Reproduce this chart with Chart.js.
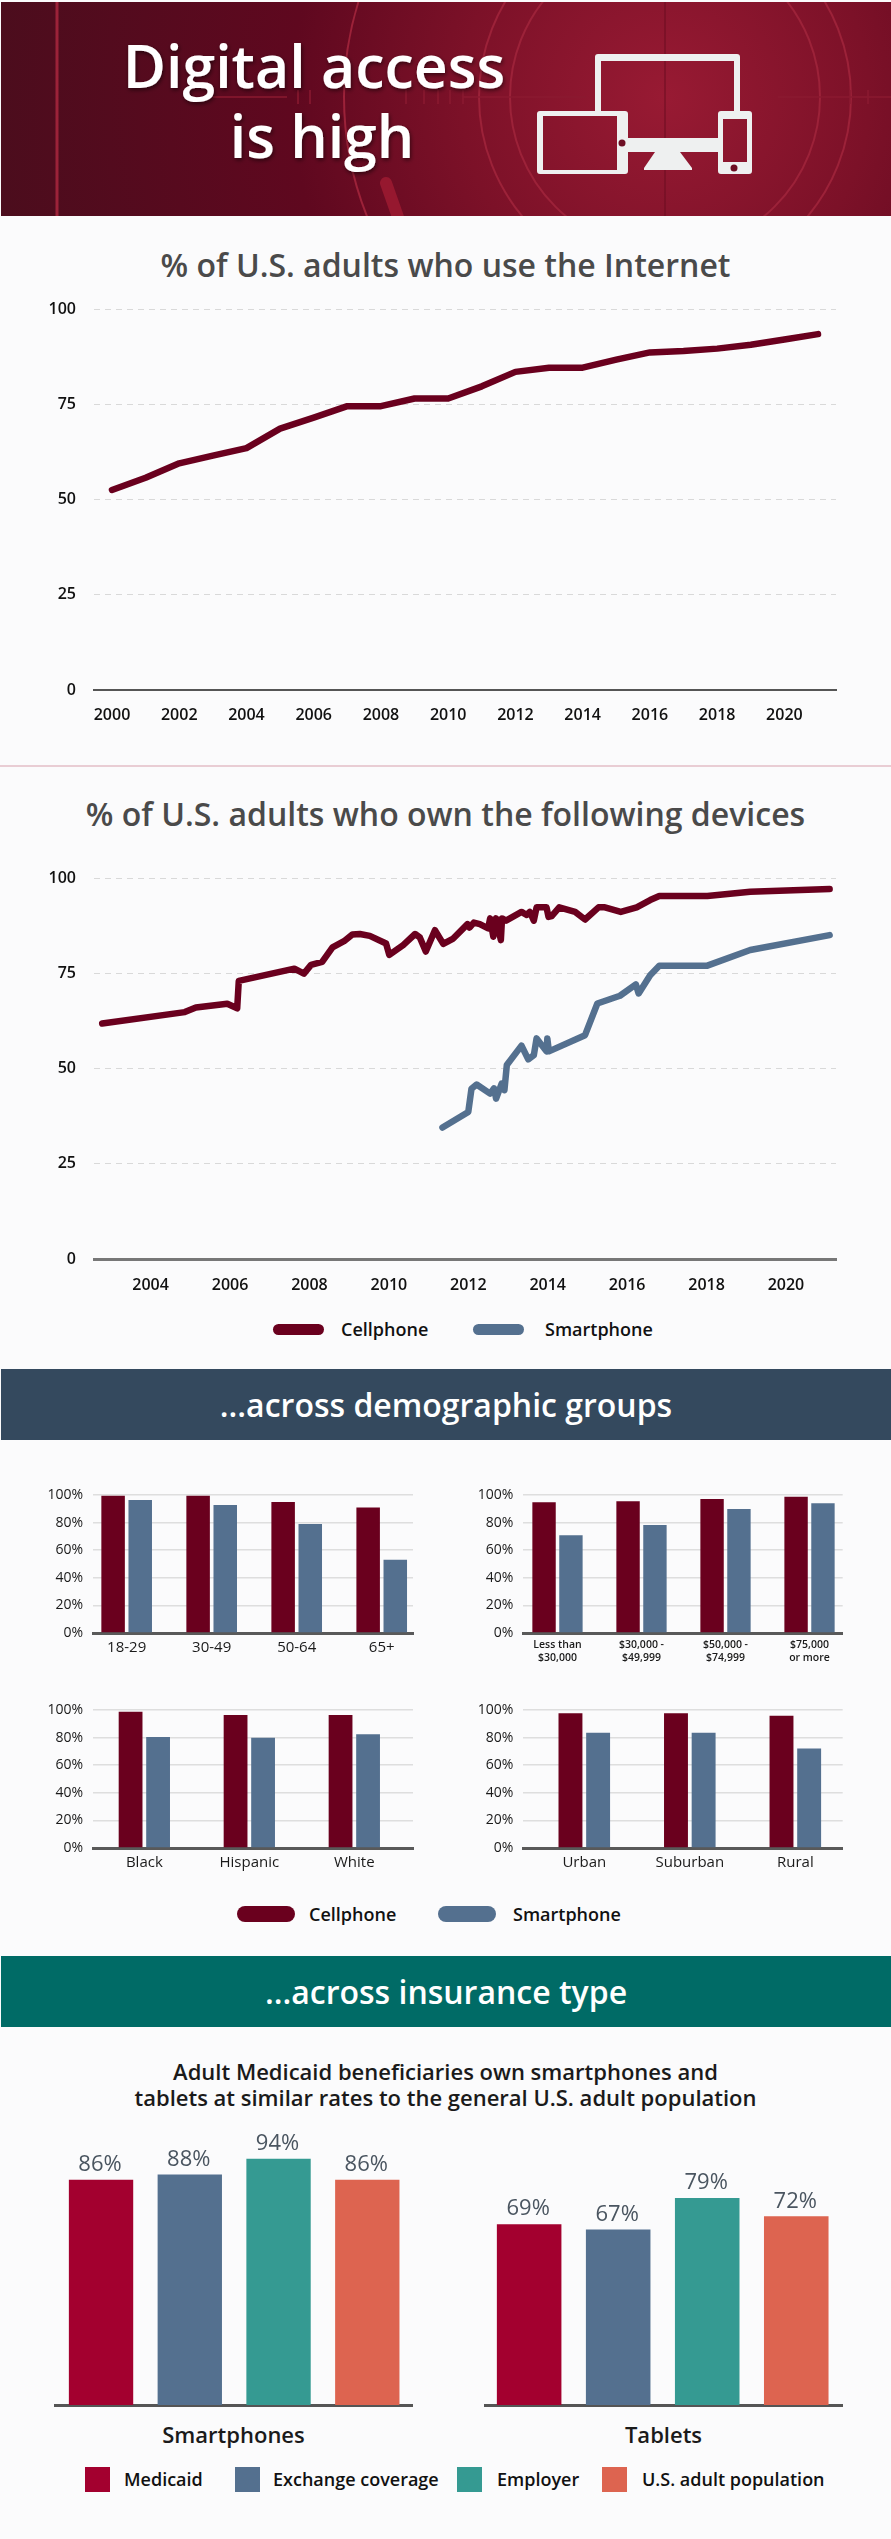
<!DOCTYPE html>
<html>
<head>
<meta charset="utf-8">
<title>Digital access is high</title>
<script src="https://cdn.jsdelivr.net/npm/chart.js@4/dist/chart.umd.min.js"></script>
<style>
  html, body { margin: 0; padding: 0; background: #fbfbfc; }
  body { position: relative; width: 891px; height: 2539px; overflow: hidden; font-family: 'Open Sans', sans-serif; }
  canvas { position: absolute; display: block; }
  .txt { position: absolute; white-space: nowrap; line-height: 1; }
  .center { left: 0; width: 891px; text-align: center; }
  .title { font-size: 32px; font-weight: 600; color: #4a4a4a; }
  .band { position: absolute; left: 1px; width: 890px; color: #fff; text-align: center; font-size: 32px; font-weight: 600; }
  .sw { position: absolute; }
  .lg { font-size: 18px; font-weight: 600; color: #111; }
  #banner { position: absolute; left: 0; top: 2px; }
</style>
</head>
<body>

<svg id="banner" width="891" height="214" viewBox="0 2 891 214">
  <defs>
    <radialGradient id="bg" gradientUnits="userSpaceOnUse" cx="665" cy="97" r="680">
      <stop offset="0" stop-color="#981a33"/>
      <stop offset="0.3" stop-color="#7c1128"/>
      <stop offset="0.55" stop-color="#5f081f"/>
      <stop offset="1" stop-color="#4b0d1d"/>
    </radialGradient>
    <filter id="sh"><feDropShadow dx="1" dy="2" stdDeviation="2" flood-color="#000" flood-opacity=".55"/></filter>
  </defs>
  <rect x="1" y="2" width="890" height="214" fill="url(#bg)"/>
  <g fill="none" stroke="#9c2239">
    <circle cx="665" cy="97" r="155" stroke-width="2"/>
    <circle cx="665" cy="97" r="186" stroke-width="2"/>
    <circle cx="665" cy="97" r="321" stroke-width="2"/>
    <line x1="57" y1="2" x2="57" y2="216" stroke-width="3"/>
    <line x1="665" y1="2" x2="665" y2="216" stroke="#6b0c20"/>
    <path d="M213 97H287M298 90V104M310 90V104M406 90V104M424 90V104M438 90V104M450 90V104M463 90V104M463 97H586M778 97H891M850 90V104M868 90V104" stroke-width="1.5" stroke="#8a1a30"/>
    <line x1="386" y1="183" x2="399" y2="220" stroke="#96182f" stroke-width="12" stroke-linecap="round"/>
  </g>
  <g fill="#eef0f0">
    <path fill-rule="evenodd" d="M598 54H737a3 3 0 0 1 3 3V112H734V61H601V112H595V57a3 3 0 0 1 3-3Z"/>
    <path d="M628 138H719V152H628Z"/>
    <path d="M655 152H680L692 168V170H644V168Z"/>
    <path fill-rule="evenodd" d="M540 111H625a3 3 0 0 1 3 3V171a3 3 0 0 1-3 3H540a3 3 0 0 1-3-3V114a3 3 0 0 1 3-3ZM543 116V170H617V116Z"/>
    <path fill-rule="evenodd" d="M721 111H749a3 3 0 0 1 3 3V171a3 3 0 0 1-3 3H721a3 3 0 0 1-3-3V114a3 3 0 0 1 3-3ZM723 119V162H747V119Z"/>
  </g>
  <circle cx="622" cy="143" r="3.5" fill="#6d0f24"/>
  <circle cx="734" cy="168" r="3.5" fill="#6d0f24"/>
  <g fill="#fff" font-family="Open Sans" font-weight="600" font-size="59" text-anchor="middle" filter="url(#sh)">
    <text x="314" y="88">Digital access</text>
    <text x="322" y="158">is high</text>
  </g>
</svg>

<div class="txt center title" style="top:249px;">% of U.S. adults who use the Internet</div>
<canvas id="internetChart" width="891" height="445" style="left:0;top:295px;"></canvas>

<div class="sw" style="left:0;top:765px;width:891px;height:2px;background:#e9cdd4;"></div>
<div class="txt center title" style="top:798px;">% of U.S. adults who own the following devices</div>
<canvas id="devicesChart" width="891" height="450" style="left:0;top:864px;"></canvas>
<div class="sw" style="left:273px;top:1324px;width:51px;height:11px;border-radius:6px;background:#6a001e;"></div>
<div class="txt lg" style="left:341px;top:1320px;">Cellphone</div>
<div class="sw" style="left:473px;top:1324px;width:51px;height:11px;border-radius:6px;background:#54708f;"></div>
<div class="txt lg" style="left:545px;top:1320px;">Smartphone</div>

<div class="band" style="top:1369px;height:71px;line-height:71px;background:#34495e;">...across demographic groups</div>
<canvas id="ageChart" width="430" height="188" style="left:0;top:1485px;"></canvas>
<canvas id="incomeChart" width="441" height="188" style="left:440px;top:1485px;"></canvas>
<canvas id="raceChart" width="430" height="178" style="left:0;top:1700px;"></canvas>
<canvas id="areaChart" width="441" height="178" style="left:440px;top:1700px;"></canvas>
<div class="sw" style="left:237px;top:1906px;width:58px;height:16px;border-radius:8px;background:#6a001e;"></div>
<div class="txt lg" style="left:309px;top:1905px;">Cellphone</div>
<div class="sw" style="left:438px;top:1906px;width:58px;height:16px;border-radius:8px;background:#54708f;"></div>
<div class="txt lg" style="left:513px;top:1905px;">Smartphone</div>

<div class="band" style="top:1956px;height:71px;line-height:71px;background:#006b66;">...across insurance type</div>
<div class="txt center" style="top:2060px;font-size:22px;font-weight:600;color:#1a1a1a;">Adult Medicaid beneficiaries own smartphones and</div>
<div class="txt center" style="top:2086px;font-size:22px;font-weight:600;color:#1a1a1a;">tablets at similar rates to the general U.S. adult population</div>
<canvas id="smartphonesChart" width="359" height="290" style="left:54px;top:2120px;"></canvas>
<canvas id="tabletsChart" width="359" height="290" style="left:484px;top:2120px;"></canvas>
<div class="txt" style="left:54px;width:359px;text-align:center;top:2423px;font-size:22px;font-weight:600;color:#1a1a1a;">Smartphones</div>
<div class="txt" style="left:484px;width:359px;text-align:center;top:2423px;font-size:22px;font-weight:600;color:#1a1a1a;">Tablets</div>
<div class="sw" style="left:85px;top:2467px;width:25px;height:25px;background:#a3002f;"></div>
<div class="txt lg" style="left:124px;top:2470px;">Medicaid</div>
<div class="sw" style="left:235px;top:2467px;width:25px;height:25px;background:#54708f;"></div>
<div class="txt lg" style="left:273px;top:2470px;">Exchange coverage</div>
<div class="sw" style="left:457px;top:2467px;width:25px;height:25px;background:#359a92;"></div>
<div class="txt lg" style="left:497px;top:2470px;">Employer</div>
<div class="sw" style="left:602px;top:2467px;width:25px;height:25px;background:#dd6450;"></div>
<div class="txt lg" style="left:642px;top:2470px;">U.S. adult population</div>

<script>
// --- data ---
const internetYears = [2000,2001,2002,2003,2004,2005,2006,2007,2008,2009,2010,2011,2012,2013,2014,2015,2016,2017,2018,2019,2020,2021];
const internetValues = [52.5,55.7,59.5,61.5,63.5,68.6,71.5,74.5,74.5,76.5,76.5,79.7,83.5,84.6,84.6,86.7,88.6,89,89.6,90.6,92,93.4];
const internetTicks = [2000,2002,2004,2006,2008,2010,2012,2014,2016,2018,2020];

const cellYears = [2002.78,2004.86,2005.14,2005.93,2006.18,2006.22,2007.62,2007.86,2008.04,2008.32,2008.58,2008.87,2009.08,2009.27,2009.52,2009.93,2010.01,2010.36,2010.66,2010.78,2010.93,2011.16,2011.37,2011.62,2011.98,2012.03,2012.14,2012.29,2012.5,2012.55,2012.63,2012.7,2012.82,2012.85,2012.95,2013.34,2013.47,2013.55,2013.65,2013.72,2013.97,2014.02,2014.1,2014.29,2014.69,2014.94,2015.28,2015.44,2015.84,2016.24,2016.58,2016.81,2018.02,2019.1,2021.1];
const cellValues = [61.8,64.8,66,67,65.8,73,76.2,74.9,77.2,78,81.8,83.4,85.2,85.3,84.8,82.8,79.8,82.4,85.3,84.4,80.7,86.3,82.7,84.1,87.9,87,88.3,87.9,86.8,89.4,84.6,89.4,83.7,89.4,88.8,91.1,90.3,91.1,88.8,92.3,92.3,89.8,90,92.3,91.1,89.1,92.3,92.3,91.1,92.3,94.2,95.25,95.25,96.4,97.1];
const smartYears = [2011.35,2012,2012.08,2012.21,2012.55,2012.65,2012.7,2012.84,2012.91,2012.97,2013.34,2013.51,2013.65,2013.72,2013.97,2013.99,2014.03,2014.94,2015.25,2015.82,2016.22,2016.29,2016.58,2016.81,2018.02,2019.1,2021.1];
const smartValues = [34.5,38.6,44.7,45.8,43.4,44.8,42.1,46.05,44.3,50.9,56,52.4,53.5,57.9,54.5,57.9,54.5,58.75,67.07,69.1,72.06,69.7,74.5,77,77,81.1,85];
const deviceTicks = [2004,2006,2008,2010,2012,2014,2016,2018,2020];
const percentTicks = [0,25,50,75,100];

const ageCats = ['18-29','30-49','50-64','65+'];
const ageCell = [99.5,99.5,95,91];
const ageSmart = [96.4,92.8,79,53];
const incomeCats = [['Less than','$30,000'],['$30,000 -','$49,999'],['$50,000 -','$74,999'],['$75,000','or more']];
const incomeCell = [94.7,95.4,97.1,98.8];
const incomeSmart = [70.8,78.2,89.9,94];
const raceCats = ['Black','Hispanic','White'];
const raceCell = [98.8,96.4,96.4];
const raceSmart = [80.4,79.9,82.4];
const areaCats = ['Urban','Suburban','Rural'];
const areaCell = [97.6,97.6,95.9];
const areaSmart = [83.6,83.6,72.1];

const smartphoneRates = [86,88,94,86];
const tabletRates = [69,67,79,72];

const WINE = '#6a001e';
const SLATE = '#54708f';
const INSURANCE_COLORS = ['#a3002f', SLATE, '#359a92', '#dd6450'];
const FONT = 'Open Sans';

Chart.defaults.font.family = FONT;
Chart.defaults.animation = false;
Chart.defaults.responsive = false;
Chart.defaults.plugins.legend.display = false;
Chart.defaults.plugins.tooltip.enabled = false;

const toPoints = (xs, ys) => xs.map((x, i) => ({ x, y: ys[i] }));

// keep the plot area exactly where the layout padding puts it
function fitX(s, h) { s.height = h; s.paddingLeft = 0; s.paddingRight = 0; }
function fitY(s, w) { s.width = w; s.paddingTop = 0; s.paddingBottom = 0; }

function lineDataset(xs, ys, color) {
  return {
    data: toPoints(xs, ys),
    borderColor: color,
    borderWidth: 6.5,
    borderJoinStyle: 'round',
    borderCapStyle: 'round',
    pointRadius: 0,
    tension: 0
  };
}

function lineChart(id, datasets, xMin, xMax, xTicks, pad, axisH, axisStyle) {
  return new Chart(document.getElementById(id), {
    type: 'line',
    data: { datasets },
    options: {
      layout: { padding: pad },
      scales: {
        x: {
          type: 'linear',
          min: xMin,
          max: xMax,
          afterBuildTicks: s => { s.ticks = xTicks.map(value => ({ value })); },
          afterFit: s => fitX(s, axisH),
          grid: { display: false, drawTicks: false },
          border: axisStyle,
          ticks: {
            callback: v => String(v),
            font: { size: 16, weight: '600' },
            color: '#111',
            padding: axisH === 55 ? 17 : 16,
            maxRotation: 0,
            autoSkip: false
          }
        },
        y: {
          min: 0,
          max: 100,
          afterBuildTicks: s => { s.ticks = percentTicks.map(value => ({ value })); },
          afterFit: s => fitY(s, 94),
          grid: { color: '#d9d9d9', drawTicks: false },
          border: { display: false, dash: [6, 5] },
          ticks: {
            font: { size: 16, weight: '600' },
            color: '#111',
            padding: 18
          }
        }
      }
    }
  });
}

lineChart('internetChart', [lineDataset(internetYears, internetValues, WINE)],
  1999.465, 2021.535, internetTicks, { top: 14, right: 55 }, 50, { display: true, color: '#555', width: 2 });

lineChart('devicesChart', [
  lineDataset(cellYears, cellValues, WINE),
  lineDataset(smartYears, smartValues, SLATE)
], 2002.574, 2021.26, deviceTicks, { top: 14, right: 55 }, 55, { display: true, color: '#777', width: 3 });

function groupedBars(id, cats, cell, smart, opt) {
  const idx = cats.map((c, i) => i);
  return new Chart(document.getElementById(id), {
    type: 'bar',
    data: {
      datasets: [
        { data: toPoints(idx, cell), backgroundColor: WINE },
        { data: toPoints(idx, smart), backgroundColor: SLATE }
      ]
    },
    options: {
      layout: { padding: { top: 10, right: opt.right } },
      datasets: { bar: { categoryPercentage: opt.cat, barPercentage: opt.bar } },
      scales: {
        x: {
          type: 'linear',
          offset: false,
          min: opt.min,
          max: opt.max,
          afterBuildTicks: s => { s.ticks = idx.map(value => ({ value })); },
          afterFit: s => fitX(s, opt.axisH),
          grid: { display: false, drawTicks: false, offset: false },
          border: { display: true, color: '#595959', width: 3 },
          ticks: {
            callback: v => cats[v],
            font: { size: opt.labelSize, weight: opt.labelWeight },
            color: '#1a1a1a',
            padding: opt.labelPad,
            maxRotation: 0,
            autoSkip: false
          }
        },
        y: {
          min: 0,
          max: 100,
          afterFit: s => fitY(s, opt.left),
          grid: { color: '#dedede', lineWidth: 1.5, drawTicks: false },
          border: { display: false },
          ticks: {
            stepSize: 20,
            callback: v => v + '%',
            font: { size: 14 },
            color: '#1a1a1a',
            padding: 10
          }
        }
      }
    }
  });
}

groupedBars('ageChart', ageCats, ageCell, ageSmart,
  { left: 93, right: 17, min: -0.396, max: 3.368, cat: 0.638, bar: 0.867, axisH: 40, labelSize: 15, labelWeight: '400', labelPad: 6 });
groupedBars('incomeChart', incomeCats, incomeCell, incomeSmart,
  { left: 83.3, right: 38.3, min: -0.407, max: 3.395, cat: 0.64, bar: 0.87, axisH: 40, labelSize: 10.5, labelWeight: '600', labelPad: 6 });
groupedBars('raceChart', raceCats, raceCell, raceSmart,
  { left: 93, right: 17, min: -0.489, max: 2.559, cat: 0.524, bar: 0.865, axisH: 30, labelSize: 15, labelWeight: '400', labelPad: 6 });
groupedBars('areaChart', areaCats, areaCell, areaSmart,
  { left: 83.3, right: 38.3, min: -0.578, max: 2.449, cat: 0.524, bar: 0.865, axisH: 30, labelSize: 15, labelWeight: '400', labelPad: 6 });

// percent labels above the insurance bars
const valueLabels = {
  id: 'valueLabels',
  afterDatasetsDraw(chart) {
    const { ctx } = chart;
    const points = chart.data.datasets[0].data;
    ctx.save();
    ctx.font = `22px "${FONT}"`;
    ctx.fillStyle = '#4a5560';
    ctx.textAlign = 'center';
    ctx.textBaseline = 'middle';
    chart.getDatasetMeta(0).data.forEach((bar, i) => {
      ctx.fillText(points[i].y + '%', bar.x - 1, bar.y - 15);
    });
    ctx.restore();
  }
};

function insuranceBars(id, values, xMin, xMax) {
  return new Chart(document.getElementById(id), {
    type: 'bar',
    data: {
      datasets: [{
        data: toPoints(values.map((v, i) => i), values),
        backgroundColor: INSURANCE_COLORS,
        categoryPercentage: 1,
        barPercentage: 0.725
      }]
    },
    options: {
      layout: { padding: { top: 23, bottom: 5 } },
      scales: {
        x: {
          type: 'linear',
          offset: false,
          min: xMin,
          max: xMax,
          grid: { display: false, drawTicks: false, offset: false },
          border: { display: true, color: '#555', width: 3 },
          ticks: { display: false }
        },
        y: { display: false, min: 0, max: 100 }
      }
    },
    plugins: [valueLabels]
  });
}

insuranceBars('smartphonesChart', smartphoneRates, -0.53, 3.515);
insuranceBars('tabletsChart', tabletRates, -0.507, 3.525);
</script>
</body>
</html>
